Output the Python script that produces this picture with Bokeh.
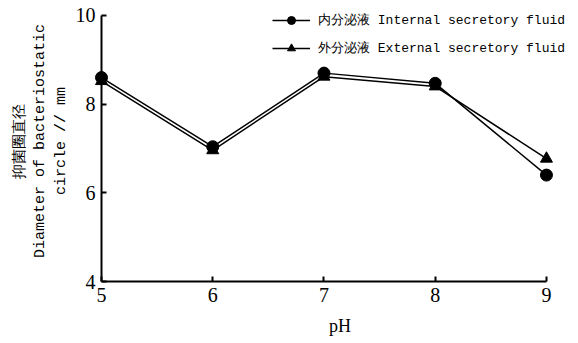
from bokeh.plotting import figure
from bokeh.models import Range1d, Legend, LegendItem, FixedTicker
from bokeh.embed import file_html
from bokeh.resources import INLINE

ph = [5, 6, 7, 8, 9]
internal = [8.60, 7.04, 8.70, 8.47, 6.40]
external = [8.52, 6.96, 8.62, 8.40, 6.77]
x_ticks = [5, 6, 7, 8, 9]
y_ticks = [4, 6, 8, 10]
name_internal = "内分泌液 Internal secretory fluid"
name_external = "外分泌液 External secretory fluid"

# frame extends past pH 9 and above 10 so the legend is not clipped; axes bounded
p = figure(width=578, height=343, output_backend="svg", toolbar_location=None,
           x_range=Range1d(5, 9.288), y_range=Range1d(4, 10.338),
           min_border_left=101, min_border_right=0, min_border_top=0, min_border_bottom=62)
p.outline_line_color = None
p.grid.visible = False
p.background_fill_color = "white"

l1 = p.line(ph, internal, line_color="black", line_width=1.5, level="overlay")
s1 = p.scatter(ph, internal, marker="circle", size=12, fill_color="black", line_color="black", level="overlay")
l2 = p.line(ph, external, line_color="black", line_width=1.5, level="overlay")
s2 = p.scatter(ph, external, marker="triangle", size=12, fill_color="black", line_color="black", level="overlay")

for ax in (p.xaxis[0], p.yaxis[0]):
    ax.axis_line_width = 2
    ax.axis_line_color = "black"
    ax.major_tick_line_width = 2
    ax.major_tick_in = 5
    ax.major_tick_out = 0
    ax.minor_tick_line_color = None
    ax.major_label_text_font = "Liberation Serif"
    ax.major_label_text_font_size = "20px"
    ax.major_label_text_color = "black"
    ax.axis_label_text_color = "black"
    ax.axis_label_text_font_style = "normal"

p.xaxis.ticker = FixedTicker(ticks=x_ticks)
p.xaxis.bounds = (5, 9)
p.yaxis.ticker = FixedTicker(ticks=y_ticks)
p.yaxis.bounds = (4, 10)
p.xaxis.major_label_standoff = 6
p.yaxis.major_label_standoff = 6

p.xaxis.axis_label = "pH"
p.xaxis.axis_label_text_font = "Liberation Serif"
p.xaxis.axis_label_text_font_size = "18px"
p.xaxis.axis_label_standoff = 11

p.yaxis.axis_label = "抑菌圈直径\nDiameter of bacteriostatic\ncircle // mm"
p.yaxis.axis_label_text_font = "Liberation Mono"
p.yaxis.axis_label_text_font_size = "15px"
p.yaxis.axis_label_standoff = 3

legend = Legend(items=[LegendItem(label=name_internal, renderers=[l1, s1]),
                       LegendItem(label=name_external, renderers=[l2, s2])],
                location=(171, 223))
legend.border_line_color = None
legend.background_fill_alpha = 0
legend.padding = 0
legend.margin = 0
legend.spacing = 8
legend.glyph_width = 38
legend.glyph_height = 20
legend.label_height = 20
legend.label_standoff = 8
legend.label_text_font = "Liberation Mono"
legend.label_text_font_size = "13px"
legend.label_text_color = "black"
p.add_layout(legend, "center")

open("out.html", "w").write(file_html(p, INLINE))
